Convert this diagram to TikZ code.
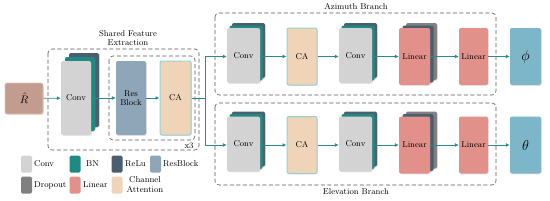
\documentclass[tikz,border=0pt]{standalone}
\usetikzlibrary{arrows.meta,shadows}
\definecolor{convgray}{HTML}{D3D3D3}
\definecolor{bnteal}{HTML}{1F8983}
\definecolor{reludark}{HTML}{4A5E6E}
\definecolor{resblue}{HTML}{8FA5B8}
\definecolor{dropgray}{HTML}{808080}
\definecolor{linred}{HTML}{E2918A}
\definecolor{catan}{HTML}{F0D4B8}
\definecolor{caedge}{HTML}{93D2D2}
\definecolor{outblue}{HTML}{7DB6C9}
\definecolor{rbrown}{HTML}{C29C8E}
\definecolor{redge}{HTML}{DCC3B9}
\definecolor{arrteal}{HTML}{2A8C88}
\definecolor{dashgray}{HTML}{555555}
\tikzset{
  blk/.style={rounded corners=2pt, inner sep=0pt, draw=none, font=\fontsize{8.5}{9.5}\selectfont,
    drop shadow={opacity=0.2, shadow xshift=0.8pt, shadow yshift=-0.8pt}},
  tallblk/.style={blk, minimum width=30pt, minimum height=74pt},
  brblk/.style={blk, minimum width=32pt, minimum height=56pt},
  swatch/.style={rounded corners=1.5pt, inner sep=0pt, minimum width=11pt, minimum height=17pt},
  lgtext/.style={anchor=west, inner sep=0pt, font=\fontsize{8.5}{9.5}\selectfont},
  flow/.style={draw=arrteal, line width=0.8pt, -{Latex[length=4pt,width=4pt]}},
  flowline/.style={draw=arrteal, line width=0.8pt},
  dbox/.style={draw=dashgray, dashed, dash pattern=on 4pt off 2.5pt, line width=0.6pt, rounded corners=4pt},
  title/.style={font=\fontsize{8.5}{9.5}\selectfont, align=center, inner sep=0pt}
}
\begin{document}
\begin{tikzpicture}[x=1pt,y=-1pt]
\useasboundingbox (0,0) rectangle (550,201);
% dashed groups
\draw[dbox] (48,49) rectangle (199,150);
\draw[dbox] (109,56) rectangle (195,140);
\draw[dbox] (215,13) rectangle (496,95);
\draw[dbox] (215,103) rectangle (496,185);
\node[title] (tshared) at (128,38) {Shared Feature\\Extraction};
\node[title] (tx3) at (189,146) {x3};
\node[title] (taz) at (356,7) {Azimuth Branch};
\node[title] (tel) at (356,192) {Elevation Branch};

% input
\node[blk, fill=rbrown, draw=redge, line width=0.8pt, minimum width=38pt, minimum height=31pt] (rin) at (24,98.5) {\fontsize{11}{12}\selectfont$\hat{R}$};

% shared conv stack
\node[tallblk, fill=reludark] (sconvC) at (84,90) {};
\node[tallblk, fill=bnteal] (sconvB) at (80,94) {};
\node[tallblk, fill=convgray] (sconv) at (76,98) {Conv};
\node[tallblk, fill=resblue, align=center] (sres) at (131,98) {Res\\Block};
\node[tallblk, fill=catan, draw=caedge, line width=1pt, minimum width=31pt] (sca) at (175.5,98) {CA};

\draw[flow] (rin) -- (sconv);
\draw[flow] (sconv) -- (sres);
\draw[flow] (sres) -- (sca);

% branch split
\coordinate (jmid) at (205,98);
\coordinate (jtop) at (205,56.5);
\coordinate (jbot) at (205,145);

% azimuth branch
\node[brblk, fill=reludark, minimum width=33pt, minimum height=55pt] (aconv1C) at (248.5,50.5) {};
\node[brblk, fill=bnteal, minimum width=33pt, minimum height=55pt] (aconv1B) at (246,53) {};
\node[brblk, fill=convgray, minimum width=33pt, minimum height=55pt] (aconv1) at (243.5,55.5) {Conv};
\node[brblk, fill=catan, draw=caedge, line width=1pt, minimum width=30pt, minimum height=57pt] (aca) at (302,56.5) {CA};
\node[brblk, fill=reludark, minimum width=33pt, minimum height=55pt] (aconv2C) at (360.5,50.5) {};
\node[brblk, fill=bnteal, minimum width=33pt, minimum height=55pt] (aconv2B) at (358,53) {};
\node[brblk, fill=convgray, minimum width=33pt, minimum height=55pt] (aconv2) at (355.5,55.5) {Conv};
\node[brblk, fill=dropgray, minimum width=31pt, minimum height=57pt] (alin1C) at (421.5,51.5) {};
\node[brblk, fill=reludark, minimum width=31pt, minimum height=57pt] (alin1B) at (418,54) {};
\node[brblk, fill=linred, minimum width=31pt, minimum height=57pt] (alin1) at (414.5,56.5) {Linear};
\node[brblk, fill=linred, minimum width=29pt, minimum height=57pt] (alin2) at (473.5,56.5) {Linear};
\node[brblk, fill=outblue, minimum width=31pt, minimum height=57pt] (aout) at (525.5,56.5) {\fontsize{14}{15}\selectfont$\phi$};

% elevation branch
\node[brblk, fill=reludark, minimum width=33pt, minimum height=55pt] (econv1C) at (248.5,139) {};
\node[brblk, fill=bnteal, minimum width=33pt, minimum height=55pt] (econv1B) at (246,141.5) {};
\node[brblk, fill=convgray, minimum width=33pt, minimum height=55pt] (econv1) at (243.5,144) {Conv};
\node[brblk, fill=catan, draw=caedge, line width=1pt, minimum width=30pt, minimum height=57pt] (eca) at (302,145) {CA};
\node[brblk, fill=reludark, minimum width=33pt, minimum height=55pt] (econv2C) at (360.5,139) {};
\node[brblk, fill=bnteal, minimum width=33pt, minimum height=55pt] (econv2B) at (358,141.5) {};
\node[brblk, fill=convgray, minimum width=33pt, minimum height=55pt] (econv2) at (355.5,144) {Conv};
\node[brblk, fill=dropgray, minimum width=31pt, minimum height=57pt] (elin1C) at (421.5,140) {};
\node[brblk, fill=reludark, minimum width=31pt, minimum height=57pt] (elin1B) at (418,142.5) {};
\node[brblk, fill=linred, minimum width=31pt, minimum height=57pt] (elin1) at (414.5,145) {Linear};
\node[brblk, fill=linred, minimum width=29pt, minimum height=57pt] (elin2) at (473.5,145) {Linear};
\node[brblk, fill=outblue, minimum width=31pt, minimum height=57pt] (eout) at (525.5,145) {\fontsize{14}{15}\selectfont$\theta$};

% connectors
\draw[flowline] (sca.east) -- (jmid);
\draw[flowline] (jtop) -- (jbot);
\draw[flow] (jtop) -- (aconv1.west |- jtop);
\draw[flow] (jbot) -- (econv1.west |- jbot);
\draw[flow] (aconv1.east |- jtop) -- (aca.west |- jtop);
\draw[flow] (aca) -- (aconv2.west |- aca);
\draw[flow] (aconv2.east |- aca) -- (alin1);
\draw[flow] (alin1) -- (alin2);
\draw[flow] (alin2) -- (aout);
\draw[flow] (econv1.east |- jbot) -- (eca.west |- jbot);
\draw[flow] (eca) -- (econv2.west |- eca);
\draw[flow] (econv2.east |- eca) -- (elin1);
\draw[flow] (elin1) -- (elin2);
\draw[flow] (elin2) -- (eout);

% legend
\node[swatch, fill=convgray] (lg1) at (26.5,164) {};
\node[lgtext] (lt1) at (34,164) {Conv};
\node[swatch, fill=bnteal] (lg2) at (75,164) {};
\node[lgtext] (lt2) at (86,164) {BN};
\node[swatch, fill=reludark] (lg3) at (117,164) {};
\node[lgtext] (lt3) at (125,164) {ReLu};
\node[swatch, fill=resblue] (lg4) at (155.5,164) {};
\node[lgtext] (lt4) at (163,164) {ResBlock};
\node[swatch, fill=dropgray] (lg5) at (26.5,185) {};
\node[lgtext] (lt5) at (34,185) {Dropout};
\node[swatch, fill=linred] (lg6) at (75,185) {};
\node[lgtext] (lt6) at (83,185) {Linear};
\node[swatch, fill=catan] (lg7) at (117,185) {};
\node[title] (lt7) at (145,184.5) {Channel\\Attention};
\end{tikzpicture}
\end{document}
